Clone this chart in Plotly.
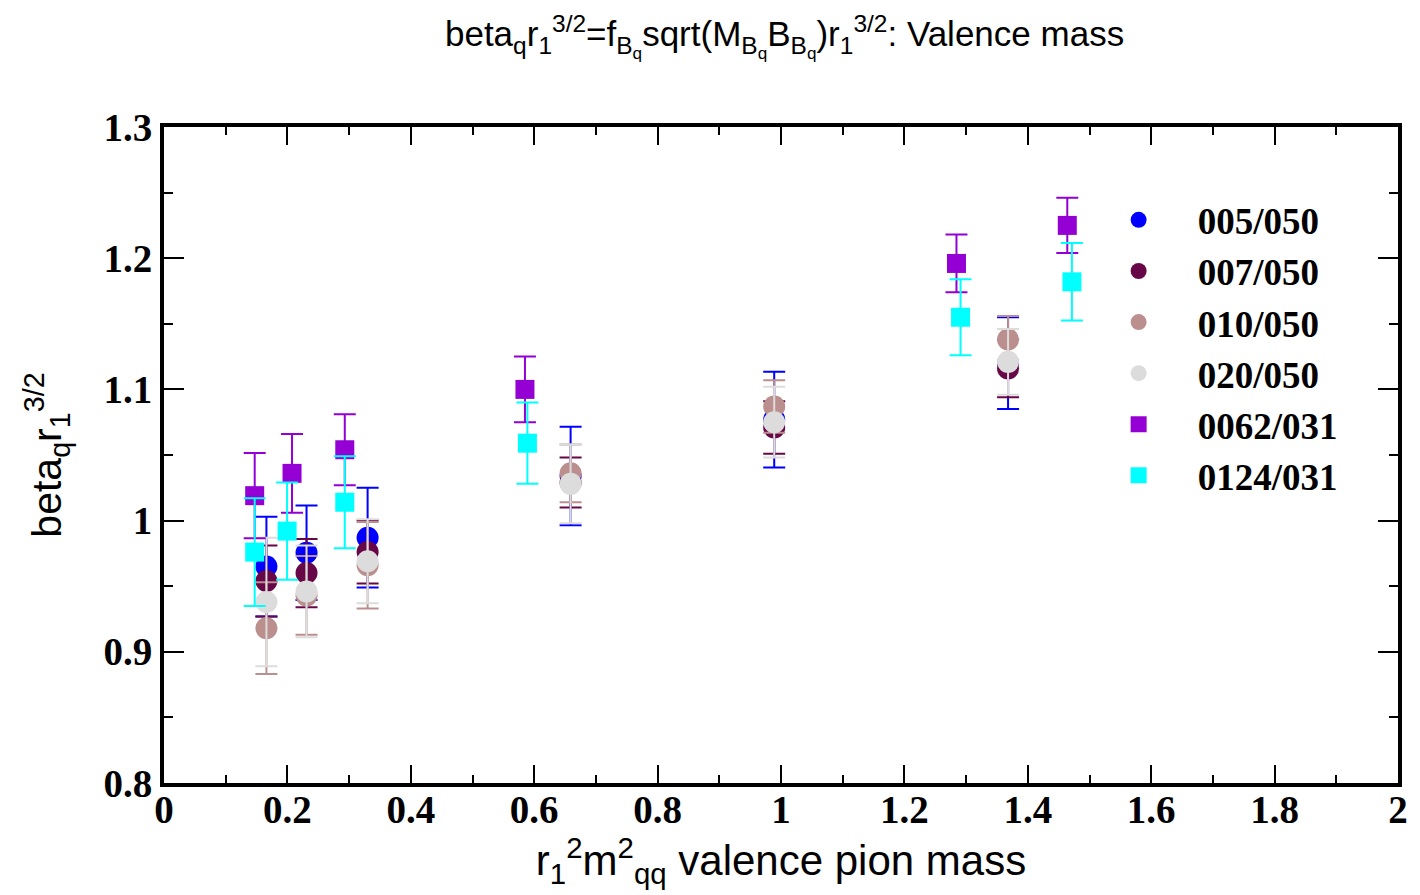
import plotly.graph_objects as go

# Valence-mass points (r1^2 m_qq^2) shared by the 050 ensembles
x_050 = [0.166, 0.231, 0.330, 0.659, 0.989, 1.368]

y_005_050 = [0.965, 0.9755, 0.987, 1.034, 1.077, 1.120]
e_005_050 = [0.038, 0.036, 0.038, 0.0375, 0.0365, 0.035]

y_007_050 = [0.954, 0.960, 0.976, 1.029, 1.071, 1.116]
e_007_050 = [0.027, 0.026, 0.024, 0.019, 0.020, 0.022]

y_010_050 = [0.918, 0.943, 0.966, 1.036, 1.087, 1.138]
e_010_050 = [0.035, 0.030, 0.033, 0.022, 0.020, 0.018]

y_020_050 = [0.938, 0.946, 0.969, 1.028, 1.075, 1.121]
e_020_050 = [0.049, 0.035, 0.032, 0.030, 0.027, 0.025]

# 031 ensembles
x_0062_031 = [0.147, 0.2075, 0.293, 0.585, 1.2844, 1.464]
y_0062_031 = [1.019, 1.036, 1.054, 1.100, 1.196, 1.225]
e_0062_031 = [0.0325, 0.030, 0.027, 0.025, 0.022, 0.021]

x_0124_031 = [0.147, 0.1995, 0.293, 0.589, 1.291, 1.4715]
y_0124_031 = [0.976, 0.992, 1.014, 1.059, 1.155, 1.182]
e_0124_031 = [0.041, 0.037, 0.035, 0.031, 0.029, 0.0295]

series = [
    ("005/050", x_050, y_005_050, e_005_050, "circle", "rgb(0,0,255)", 22),
    ("007/050", x_050, y_007_050, e_007_050, "circle", "rgb(103,7,72)", 22),
    ("010/050", x_050, y_010_050, e_010_050, "circle", "rgb(188,143,143)", 22),
    ("020/050", x_050, y_020_050, e_020_050, "circle", "rgb(220,220,220)", 22),
    ("0062/031", x_0062_031, y_0062_031, e_0062_031, "square", "rgb(148,0,211)", 19),
    ("0124/031", x_0124_031, y_0124_031, e_0124_031, "square", "rgb(0,255,255)", 19),
]

fig = go.Figure()
for name, xs, ys, es, sym, col, sz in series:
    fig.add_trace(go.Scatter(
        x=xs, y=ys, name=name, mode="markers",
        marker=dict(symbol=sym, size=sz, color=col, line=dict(width=0)),
        error_y=dict(type="data", array=es, visible=True, color=col,
                     thickness=2, width=11),
    ))

serif_bold = "Liberation Serif"
sans = "Liberation Sans"

axis_common = dict(
    showline=True, linecolor="black", linewidth=4, mirror="allticks",
    ticks="inside", tickcolor="black", tickwidth=2,
    showgrid=False, zeroline=False,
    tickfont=dict(family=serif_bold, size=39, color="black", weight="bold"),
)

fig.update_xaxes(
    range=[0, 2], tick0=0, dtick=0.2, ticklen=18, ticklabelstandoff=-11,
    minor=dict(ticks="inside", ticklen=8, tickwidth=2, tickcolor="black", dtick=0.1, showgrid=False),
    title=dict(text="r<sub>1</sub><sup>2</sup>m<sup>2</sup><sub>qq</sub> valence pion mass",
               font=dict(family=sans, size=42, color="black"), standoff=3),
    **axis_common,
)
fig.update_yaxes(
    range=[0.8, 1.3], tick0=0.8, dtick=0.1, ticklen=20,
    minor=dict(ticks="inside", ticklen=9, tickwidth=2, tickcolor="black", dtick=0.05, showgrid=False),
    title=dict(text="beta<sub>q</sub>r<sub>1</sub><sup>3/2</sup>",
               font=dict(family=sans, size=41, color="black"), standoff=30),
    **axis_common,
)

fig.update_layout(
    width=1420, height=895,
    margin=dict(l=164, r=16, t=127, b=112),
    paper_bgcolor="white", plot_bgcolor="white",
    title=dict(
        text="beta<sub>q</sub>r<sub>1</sub><sup>3/2</sup>=f<sub>B<sub>q</sub></sub>sqrt(M<sub>B<sub>q</sub></sub>B<sub>B<sub>q</sub></sub>)r<sub>1</sub><sup>3/2</sup>: Valence mass",
        font=dict(family=sans, size=35, color="black"),
        x=0.5525, xanchor="center", y=0.962, yanchor="middle",
    ),
    legend=dict(
        x=0.742, xanchor="left", y=0.905, yanchor="top",
        font=dict(family=serif_bold, size=37, color="black", weight="bold"),
        itemwidth=108, bgcolor="rgba(0,0,0,0)", borderwidth=0,
        tracegroupgap=0,
    ),
)

fig.write_html("out.html")
